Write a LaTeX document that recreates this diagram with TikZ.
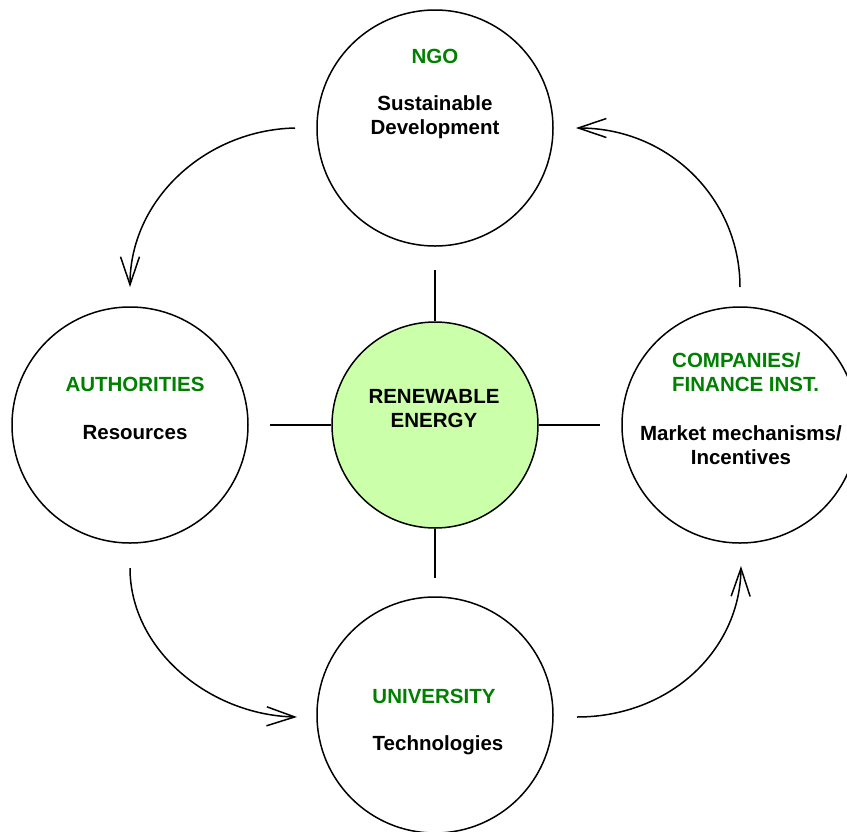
\documentclass[tikz,border=0pt]{standalone}
\usepackage{fontspec}
\setmainfont{Liberation Sans}
\usetikzlibrary{arrows.meta}
\definecolor{lbl}{RGB}{0,128,0}
\definecolor{cfill}{RGB}{204,255,170}
\begin{document}
\begin{tikzpicture}[x=1pt,y=-1pt,
  ring/.style={circle,draw=black,line width=1.5pt,minimum size=236pt,inner sep=0pt},
  core/.style={circle,draw=black,fill=cfill,line width=1.5pt,minimum size=206pt,inner sep=0pt},
  txt/.style={font=\fontsize{20.5}{24}\selectfont\bfseries,align=center,inner sep=0pt},
  gtxt/.style={txt,text=lbl},
  spoke/.style={line width=1.5pt},
  flow/.style={line width=1.5pt,-{Straight Barb[length=28pt,width=19pt,line width=1.5pt]}}]
\useasboundingbox (0,0) rectangle (847,831);
\path[clip] (0,0) rectangle (847,831);
% circles
\node[ring] (ngo) at (435,128) {};
\node[ring] (aut) at (130,425) {};
\node[ring] (com) at (740,425) {};
\node[ring] (uni) at (435,715) {};
\node[core] (ren) at (435,425) {};
% spokes
\coordinate (st) at (435,270);
\coordinate (sb) at (435,578);
\coordinate (sl) at (270,425);
\coordinate (sr) at (600,425);
\draw[spoke] (st) -- (ren.north);
\draw[spoke] (sb) -- (ren.south);
\draw[spoke] (sl) -- (ren.west);
\draw[spoke] (sr) -- (ren.east);
% flow arrows
\coordinate (a1) at (295,128); \coordinate (b1) at (130,287);
\coordinate (a2) at (740,287); \coordinate (b2) at (576,128);
\coordinate (a3) at (130,568); \coordinate (b3) at (297,717);
\coordinate (a4) at (577,717); \coordinate (b4) at (741,566);
\draw[flow] (a1) .. controls (205,130) and (130,200) .. (b1);
\draw[flow] (a2) .. controls (740,200) and (670,128) .. (b2);
\draw[flow] (a3) .. controls (130,650) and (210,715) .. (b3);
\draw[flow] (a4) .. controls (670,717) and (740,650) .. (b4);
% texts
\node[gtxt] (t1) at (435,56) {NGO};
\node[txt] (t2) at (435,117) {Sustainable\\Development};
\node[gtxt] (t3) at (135,384) {AUTHORITIES};
\node[txt] (t4) at (135,433) {Resources};
\node[txt] (t5) at (434,409) {RENEWABLE\\ENERGY};
\node[gtxt,align=left,anchor=west] (t6) at (672,372) {COMPANIES/\\FINANCE INST.};
\node[txt] (t7) at (741,445) {Market mechanisms/\\Incentives};
\node[gtxt] (t8) at (434,696) {UNIVERSITY};
\node[txt] (t9) at (438,745) {Technologies};
\end{tikzpicture}
\end{document}
